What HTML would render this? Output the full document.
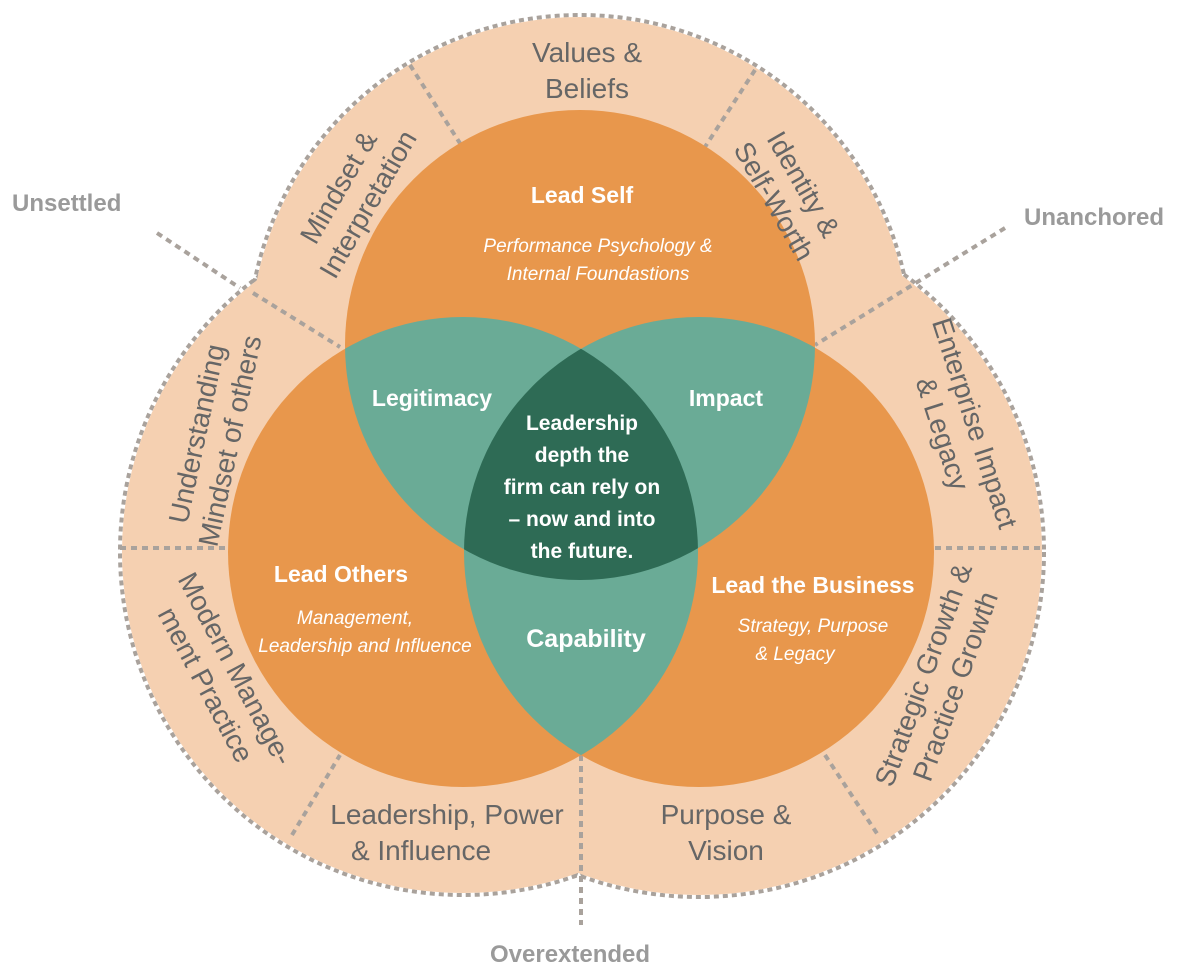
<!DOCTYPE html>
<html><head><meta charset="utf-8"><style>body{margin:0;background:#fff}svg{display:block}</style></head>
<body>
<svg width="1200" height="973" viewBox="0 0 1200 973" xmlns="http://www.w3.org/2000/svg" font-family="Liberation Sans, sans-serif">
<defs>
<clipPath id="cT"><circle cx="580" cy="345" r="235"/></clipPath>
<clipPath id="cL"><circle cx="463" cy="552" r="235"/></clipPath>
<clipPath id="cR"><circle cx="699" cy="552" r="235"/></clipPath>
</defs>
<g fill="none" stroke="#a9a29c" stroke-width="4" stroke-dasharray="5 4">
<circle cx="580" cy="347" r="332"/>
<circle cx="463" cy="552" r="343"/>
<circle cx="699" cy="552" r="345"/>
</g>
<g fill="#f5d0b1">
<circle cx="580" cy="347" r="330"/>
<circle cx="463" cy="552" r="341"/>
<circle cx="699" cy="552" r="343"/>
</g>
<g stroke="#a9a29c" stroke-width="4" stroke-dasharray="6 5" fill="none">
<line x1="410" y1="65" x2="463" y2="148"/>
<line x1="755" y1="70" x2="703" y2="150"/>
<line x1="157" y1="233" x2="240" y2="288"/>
<line x1="253" y1="293" x2="340" y2="347"/>
<line x1="1005" y1="228" x2="815" y2="345"/>
<line x1="120" y1="548" x2="228" y2="548"/>
<line x1="935" y1="548" x2="1045" y2="548"/>
<line x1="292" y1="835" x2="340" y2="755"/>
<line x1="825" y1="755" x2="878" y2="835"/>
<line x1="581" y1="755" x2="581" y2="925"/>
</g>
<g fill="#e8974c">
<circle cx="580" cy="345" r="235"/>
<circle cx="463" cy="552" r="235"/>
<circle cx="699" cy="552" r="235"/>
</g>
<g fill="#6aab96">
<g clip-path="url(#cT)"><circle cx="463" cy="552" r="235"/><circle cx="699" cy="552" r="235"/></g>
<g clip-path="url(#cL)"><circle cx="699" cy="552" r="235"/></g>
</g>
<g clip-path="url(#cT)"><g clip-path="url(#cL)"><circle cx="699" cy="552" r="235" fill="#2e6b55"/></g></g>
<g fill="#fff" font-weight="bold" text-anchor="middle" font-size="23">
<text x="582" y="203">Lead Self</text>
<text x="432" y="406">Legitimacy</text>
<text x="726" y="406">Impact</text>
<text x="341" y="582">Lead Others</text>
<text x="813" y="593">Lead the Business</text>
<text x="586" y="647" font-size="25">Capability</text>
<g font-size="21"><text x="582" y="430">Leadership</text><text x="582" y="462">depth the</text><text x="582" y="494">firm can rely on</text><text x="582" y="526">– now and into</text><text x="582" y="558">the future.</text></g>
</g>
<g fill="#fff" font-style="italic" text-anchor="middle" font-size="19">
<text x="598" y="252">Performance Psychology &amp;</text>
<text x="598" y="280">Internal Foundastions</text>
<text x="355" y="624">Management,</text>
<text x="365" y="652">Leadership and Influence</text>
<text x="813" y="632">Strategy, Purpose</text>
<text x="795" y="660">&amp; Legacy</text>
</g>
<g fill="#666" text-anchor="middle" font-size="28">
<text x="587" y="62">Values &amp;</text><text x="587" y="98">Beliefs</text>
<g transform="translate(352,195) rotate(-60)"><text y="-6">Mindset &amp;</text><text y="28">Interpretation</text></g>
<g transform="translate(790,192) rotate(60)"><text y="-6">Identity &amp;</text><text y="28">Self-Worth</text></g>
<g transform="translate(212,437) rotate(-78)"><text y="-6">Understanding</text><text y="28">Mindset of others</text></g>
<g transform="translate(960,428) rotate(72)"><text y="-6">Enterprise Impact</text><text y="28">&amp; Legacy</text></g>
<g transform="translate(222,676) rotate(62)"><text y="-6">Modern Manage-</text><text y="28">ment Practice</text></g>
<g transform="translate(938,680) rotate(-70)"><text y="-6">Strategic Growth &amp;</text><text y="28">Practice Growth</text></g>
<text x="447" y="824">Leadership, Power</text><text x="421" y="860">&amp; Influence</text>
<text x="726" y="824">Purpose &amp;</text><text x="726" y="860">Vision</text>
</g>
<g fill="#9a9a9a" font-weight="bold" font-size="24">
<text x="12" y="211">Unsettled</text>
<text x="1024" y="225">Unanchored</text>
<text x="490" y="962">Overextended</text>
</g>
</svg>
</body></html>
